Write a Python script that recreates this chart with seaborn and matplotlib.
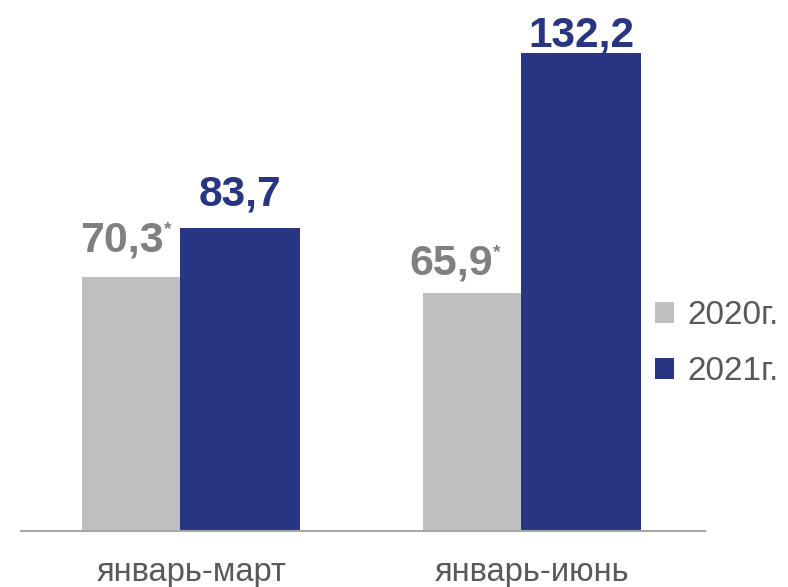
import numpy as np
import pandas as pd
import matplotlib
matplotlib.use('Agg')
import matplotlib.pyplot as plt
import seaborn as sns

# data
categories = ['январь-март', 'январь-июнь']
years = ['2020г.', '2021г.']
values_2020 = [70.3, 65.9]
values_2021 = [83.7, 132.2]
star_2020 = ['*', '*']

GRAY = '#BFBFBF'
BLUE = '#283583'
GRAY_TEXT = '#808080'
DARK_TEXT = '#595959'

sns.set_style('white')
plt.rcParams['font.family'] = ['Liberation Sans', 'DejaVu Sans']

df = pd.DataFrame({
    'period': categories * 2,
    'year': [years[0]] * len(categories) + [years[1]] * len(categories),
    'value': values_2020 + values_2021,
})

fig = plt.figure(figsize=(7.88, 5.87), dpi=100)
ax = fig.add_axes([0.0266, 0.0954, 0.868, 0.862])

sns.barplot(data=df, x='period', y='value', hue='year',
            palette=[GRAY, BLUE], width=0.64, saturation=1,
            dodge=True, linewidth=0, edgecolor='none', ax=ax)

# blue bar overlaps the grey one a little (like the office chart)
overlap = 0.032
for p in ax.containers[1]:
    p.set_x(p.get_x() - overlap)
    p.set_width(p.get_width() + overlap)

ax.set_xlim(-0.5, 1.507)
ax.set_ylim(0, 140)

# label offsets in points (dx, dy), hand tuned
off_2020 = [(-11, 18), (-19, 13)]
off_2021 = [(0, 16.5), (0, 5)]

for p, v, off, star in zip(ax.containers[0], values_2020, off_2020, star_2020):
    cx = p.get_x() + p.get_width() / 2
    txt = f'{v:.1f}'.replace('.', ',')
    ax.annotate(txt, xy=(cx, v), xytext=off, textcoords='offset points',
                ha='center', va='baseline', fontsize=31, fontweight='bold',
                color=GRAY_TEXT)
    ax.annotate(star, xy=(cx, v), xytext=(off[0] + 33, off[1] + 22),
                textcoords='offset points', ha='center', va='top',
                fontsize=14, fontweight='bold', color=GRAY_TEXT)

for p, v, off in zip(ax.containers[1], values_2021, off_2021):
    cx = p.get_x() + p.get_width() / 2
    txt = f'{v:.1f}'.replace('.', ',')
    ax.annotate(txt, xy=(cx, v), xytext=off, textcoords='offset points',
                ha='center', va='baseline', fontsize=30.5, fontweight='bold',
                color=BLUE)

sns.despine(ax=ax, left=True)
ax.spines['bottom'].set_color('#A6A6A6')
ax.spines['bottom'].set_linewidth(1.5)
ax.set_yticks([])
ax.set_xlabel('')
ax.set_ylabel('')
ax.tick_params(axis='x', length=0, pad=19, labelsize=23.5, labelcolor=DARK_TEXT)

sns.move_legend(ax, 'center left', bbox_to_anchor=(0.793, 0.414),
                bbox_transform=fig.transFigure, frameon=False, title=None,
                fontsize=24, handlelength=0.57, handleheight=0.57,
                handletextpad=0.4, labelspacing=0.75, labelcolor=DARK_TEXT)

fig.savefig('out.png', dpi=100)
